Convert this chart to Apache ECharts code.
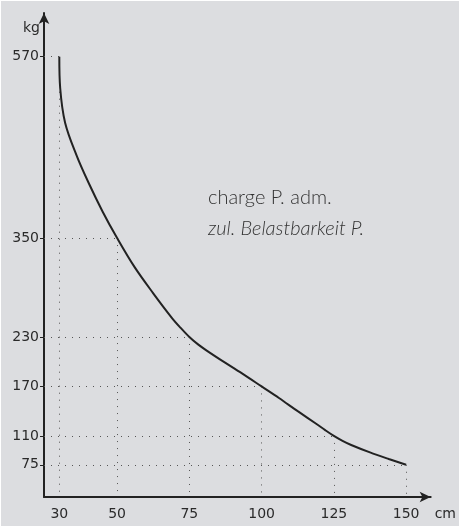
<!DOCTYPE html>
<html>
<head>
<meta charset="utf-8">
<script src="https://cdn.jsdelivr.net/npm/echarts@6/dist/echarts.min.js"></script>
<style>
  html, body { margin: 0; padding: 0; background: #fff; }
  #chart { position: absolute; left: 1px; top: 1px; width: 458px; height: 525px; }
</style>
</head>
<body>
<div id="chart"></div>
<script>
// span (cm) and admissible load (kg)
const spans = [30, 30.3, 32, 36, 40, 45, 50, 56, 62.5, 69, 72, 75, 78, 81, 87.5, 94, 100, 106, 112.5, 119, 122, 125, 128, 131, 137.5, 144, 150]
const loads = [570, 532, 490, 450, 418, 382, 350, 315, 283, 253, 241, 230, 221, 213.5, 198.5, 184, 170, 156, 140, 124.5, 117, 110, 104, 99, 90, 82, 75]

// marked points (dotted guides) and tick labels
const markSpans = [30, 50, 75, 100, 125, 150]
const markLoads = [570, 350, 230, 170, 110, 75]

const X_MIN = 24.7, X_MAX = 158.5
const Y_MIN = 35.9, Y_MAX = 623

const dark = '#222'
const labelFont = { color: '#2a2a2a', fontFamily: 'DejaVu Sans', fontSize: 14 }

let guides = []
markSpans.forEach((s, i) => {
    let l = markLoads[i]
    guides.push([{ coord: [X_MIN, l] }, { coord: [s, l] }])
    guides.push([{ coord: [s, l] }, { coord: [s, Y_MIN] }])
})

let myChart = echarts.init(document.getElementById('chart'))
let option = {
    backgroundColor: '#dcdde0',
    animation: false,
    grid: { left: 43, right: 28, top: 12, bottom: 29 },
    xAxis: {
        type: 'value',
        min: X_MIN,
        max: X_MAX,
        name: 'cm',
        nameLocation: 'end',
        nameGap: 4,
        nameTextStyle: Object.assign({ verticalAlign: 'top', padding: [10, 0, 0, 0] }, labelFont),
        splitLine: { show: false },
        axisLine: { lineStyle: { color: dark, width: 2 }, symbol: ['none', 'arrow'], symbolSize: [8, 11] },
        axisTick: { show: false },
        axisLabel: Object.assign({ customValues: markSpans, margin: 10 }, labelFont)
    },
    yAxis: {
        type: 'value',
        min: Y_MIN,
        max: Y_MAX,
        name: 'kg',
        nameLocation: 'end',
        nameGap: -22,
        nameTextStyle: Object.assign({ align: 'right', padding: [0, 4, 0, 0] }, labelFont),
        splitLine: { show: false },
        axisLine: { lineStyle: { color: dark, width: 2 }, symbol: ['none', 'arrow'], symbolSize: [8, 11] },
        axisTick: { show: true, customValues: markLoads, length: 4, lineStyle: { color: dark } },
        axisLabel: Object.assign({ customValues: markLoads, margin: 5 }, labelFont)
    },
    graphic: [
        {
            type: 'text', left: 207, top: 187,
            style: { text: 'charge P. adm.', fill: '#333', font: '300 20px Lato' }
        },
        {
            type: 'text', left: 207, top: 218,
            style: { text: 'zul. Belastbarkeit P.', fill: '#333', font: 'italic 300 20px Lato' }
        }
    ],
    series: [{
        type: 'line',
        data: spans.map((s, i) => [s, loads[i]]),
        smooth: 0.35,
        showSymbol: false,
        lineStyle: { color: dark, width: 2 },
        z: 3,
        markLine: {
            silent: true,
            symbol: 'none',
            label: { show: false },
            lineStyle: { color: '#555', width: 1, type: [1, 6] },
            z: 2,
            data: guides
        }
    }]
}
myChart.setOption(option)
</script>
</body>
</html>
